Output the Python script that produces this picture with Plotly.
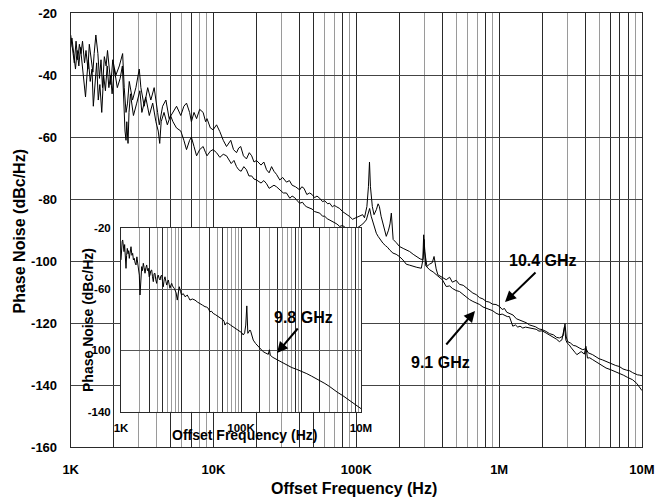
import plotly.graph_objects as go

W, H = 662, 499

# ---------------- data (frequency in kHz, phase noise in dBc/Hz) ----------------
f_104_khz = [1.00,1.03,1.06,1.09,1.12,1.15,1.18,1.21,1.25,1.28,1.32,1.35,1.39,1.43,1.46,1.50,1.55,1.59,1.63,1.67,
             1.72,1.77,1.81,1.86,1.91,1.97,2.07,2.19,2.31,2.37,2.44,2.50,2.57,2.71,2.86,3.02,3.10,3.27,3.46,3.64,
             3.84,4.06,4.17,4.40,4.64,4.89,5.17,5.51,5.9,6.2,6.47,6.8,7.0,7.3,7.61,8.0,8.46,8.8,9.0,9.5,9.93,10.5,
             11.07,11.7,12.33,13.2,13.8,14.49,15.0,15.5,16.2,17.0,17.8,18.5,19.2,20.0,21.5,22.5,23.5,24.5,25.5,26.5,
             27.6,29.1,30.5,32.4,34,35.5,37.5,40.1,41.5,43,45,47.1,49,51,53,55.4,58,60,63,65,68,70,73,76.4,80,83,86,
             89.8,94,100,105,110.7,114,118.5,121.5,123.6,125.5,129.4,133,138,142,145,149,153.5,158,162,168,172,175.8,
             178,181,190,200.8,215,236,250,263,280,292,296,301,312,325,340,350,357,362,372,395,426,450,470,500,527,
             560,590,620,654,690,730,770,811,850,900,950,1005,1050,1090,1130,1180,1250,1320,1386,1460,1550,1630,
             1718,1800,1900,2000,2130,2250,2400,2520,2640,2800,2890,2950,3020,3150,3300,3450,3630,3850,4050,4200,
             4510,4750,5000,5300,5600,5900,6200,6550,6930,7350,7800,8200,8600,9000,9300,9650,10000]
pn_104 = [-27,-31,-36,-29,-35,-30,-33,-29,-36,-32,-38,-30,-34,-39,-33,-27,-33,-41,-35,-44,
          -34,-37,-32,-38,-43,-35,-40,-37,-33,-44,-52,-49,-42,-48,-44,-38,-44,-50,-44,-48,
          -44,-52,-56,-50,-48,-54,-52,-50,-53,-50,-49,-52,-55,-52,-54,-51,-52,-55,-54,-57,-57.6,-56,
          -58.2,-61,-63,-61,-64,-65,-63.5,-63,-66,-67,-65,-66,-68,-67.5,-69,-68,-70.5,-71.5,-69.5,-71,
          -72,-73.8,-73,-74.5,-74,-75.5,-76,-77,-76,-76.5,-78.5,-78,-78.5,-79.5,-79,-79.7,-80.8,-80.5,-81.5,-81.3,-82.5,-82,-82.5,-83,-84,-84.5,-84.8,
          -85.6,-86.5,-86,-85.5,-85,-86,-82.4,-76,-68,-76,-82.4,-85,-83.4,-81.5,-82.4,-85.5,-87.7,-90,-92,-90,-88,-84.5,
          -89,-93,-94,-95.3,-96,-96.9,-97.8,-98.5,-99.3,-99.5,-91.5,-97,-101.7,-101,-100.5,-98.5,-101,-102.5,-104.4,-105,-106,-105.2,-106.8,-106.2,-107.5,
          -107.8,-108.6,-109.6,-110.3,-110.8,-111.8,-112.2,-113,-113.2,-113.9,-114,-114.6,-115.6,-115.3,-116.5,-116.8,-117.4,-118.6,-119,-119.2,-119.9,-120.6,
          -121,-121.2,-121.9,-122.1,-122.7,-123.4,-123.8,-124.6,-124.8,-124.2,-120.2,-124.5,-126,-126.4,-127.2,-127.4,-128,-128.6,-128.2,-129.6,
          -130.2,-131,-131.5,-131.9,-132.4,-133,-133.3,-133.7,-134,-134.8,-135.2,-135.4,-136,-136.5,-136.7,-136.8,-137]

f_91_khz = [1.00,1.02,1.05,1.08,1.11,1.14,1.17,1.20,1.24,1.27,1.30,1.33,1.37,1.41,1.44,1.48,1.52,1.56,1.60,1.65,
            1.70,1.75,1.80,1.85,1.90,1.95,2.02,2.12,2.22,2.30,2.35,2.40,2.44,2.47,2.52,2.56,2.62,2.75,2.90,3.05,
            3.15,3.35,3.55,3.75,3.95,4.10,4.20,4.30,4.50,4.75,5.00,5.20,5.5,5.9,6.2,6.47,6.8,7.0,7.3,7.61,8.0,8.46,
            8.8,9.0,9.5,9.93,10.5,11.07,11.7,12.33,13.3,13.9,14.49,15.0,15.6,16.3,17.0,17.7,18.5,19.2,20.0,21.5,22.5,
            23.5,24.5,25.5,26.5,27.6,29.1,30.8,32.4,34.2,35.5,37,38.5,40.1,42,43.5,45,47.1,49,51,53,55.4,58,60,62.5,
            65,67.5,70,73,76.4,80,83,86,89.8,95,100,105.5,111,117.4,121,123.9,127,130.8,134,138,142,147,153.5,160,
            165,172,180.4,190,200,211.8,223.7,236,249,265,285,294,298,302,306,326,345,372,400,426,450,470,500,527,
            560,590,620,654,690,730,770,811,850,900,950,1005,1050,1090,1140,1180,1220,1245,1300,1350,1400,1463,1530,
            1600,1700,1815,1900,2000,2130,2250,2400,2520,2640,2750,2870,2930,3000,3090,3200,3300,3400,3500,3650,3750,
            3950,4050,4150,4300,4510,4800,5100,5600,6000,6500,6930,7400,7900,8600,9200,9600,10000]
pn_91 = [-31,-28,-33,-38,-32,-37,-31,-36,-42,-47,-40,-35,-42,-38,-50,-41,-36,-48,-43,-52,
         -40,-45,-37,-44,-40,-46,-38,-44,-41,-37,-50,-58,-61,-55,-62,-52,-46,-53,-49,-45,
         -52,-47,-53,-49,-55,-58,-62,-55,-52,-56,-53,-55,-57,-58,-61,-64,-61,-60,-63,-66,-64,-63,
         -65,-66,-64.5,-64,-65,-66.5,-65.5,-66,-68.5,-67.5,-69.5,-70.5,-71,-69.5,-70.5,-72.5,-72.5,-73.5,-73.8,-74.8,-74,
         -75,-76.5,-76,-75.5,-76,-77,-78,-78,-79.7,-79,-79.5,-80.5,-81.3,-81,-82,-82.5,-83,-83.2,-84,-84.2,-84.5,-85.5,-85.5,-86.3,
         -86.7,-87,-87.5,-88,-88.8,-88.5,-89,-89.6,-89.4,-89.8,-89.5,-88.8,-88,-86.7,-84.5,-83,-85.5,-87.7,-89.5,-91,-92,-93,-94.2,-95,
         -95.5,-96.5,-97.4,-97.8,-98.5,-99.6,-101,-101.3,-101.7,-102,-102.3,-99,-93,-98,-101.5,-102.8,-103.5,-104.8,-106,-108.2,-108,-108.8,-109.5,-109.8,
         -110.8,-111.5,-112.4,-113,-113.4,-114,-114.8,-115.2,-115.6,-116,-116.8,-117.3,-117.1,-117.5,-117.9,-117.9,-120,-121,-120.6,-121.3,-121,-121.6,-121.3,
         -121.5,-121.8,-122,-122.6,-122.5,-123.2,-123.8,-124.5,-125.2,-126,-125.4,-121,-125.5,-126.5,-127,-128,-128.6,-129.5,-130.2,-129.7,-129.2,
         -130,-127.5,-131.3,-131.2,-131.8,-132.6,-133.4,-134.5,-135,-135.6,-136.1,-136.8,-137.5,-138.3,-139.5,-140.6,-141.8]

f_98_khz = [1.0,1.02,1.045,1.067,1.09,1.122,1.15,1.18,1.212,1.24,1.274,1.31,1.34,1.375,1.42,1.468,1.52,1.565,1.61,1.665,
            1.72,1.778,1.84,1.897,1.95,2.018,2.073,2.13,2.214,2.28,2.353,2.43,2.512,2.6,2.681,2.76,2.851,2.95,3.04,3.14,
            3.25,3.35,3.456,3.56,3.68,3.8,3.93,4.05,4.175,4.32,4.467,4.62,4.77,4.92,5.07,5.24,5.41,5.6,5.78,5.96,
            6.15,6.35,6.55,6.78,7.0,7.22,7.44,7.7,7.94,8.3,8.67,9.0,9.35,9.8,10.2,10.9,11.66,12.2,12.7,13.4,
            14.1,15.5,17.1,18.8,20.7,22.8,25.1,26.8,28.5,30.3,32.3,34.4,37.8,41.7,45.5,48,50.6,52.3,54.1,57.5,
            61.3,67,74.4,82,89,96.2,103,109,115,120,125,130,135,141,145,150,160,175,194,215,
            235,260,285,298,308,340,380,430,500,600,700,850,1000,1250,1500,2000,2500,3000,3500,4000,
            5000,6000,7000,8500,10000]
pn_98 = [-41,-33,-29,-28,-33,-35.6,-31,-38,-46.5,-38,-33.5,-37,-35,-40,-36,-32.4,-38,-36.7,-41,-40,
         -43,-44.3,-39,-42.2,-46,-50.9,-63.9,-52,-45.4,-48,-43.2,-46,-49.7,-46,-44.3,-48,-46.5,-52,-50.9,-48,
         -47.6,-52,-55.2,-50,-49.7,-54,-56.3,-52,-50.9,-53,-54.1,-51.5,-50.9,-55,-58.5,-54,-52,-55,-57.4,-55.5,
         -54.1,-57,-59.5,-57.5,-56.3,-58,-58.5,-59.5,-60.6,-62.5,-67.2,-62,-58.5,-61.5,-63.9,-63,-65,-64.5,-63.9,-65.5,
         -67.2,-66.5,-67.2,-68.5,-69.3,-70.5,-71.5,-71.8,-72.6,-74.8,-74.5,-75.9,-76.8,-78,-78.8,-79.5,-80.2,-81.2,-83.5,-82,
         -82.4,-83.5,-84.6,-85.8,-87,-87.8,-88.5,-90,-88.6,-83.5,-71,-88.9,-88,-86.7,-87.5,-90,-93.3,-95.5,-97.6,-99.3,
         -100.9,-101.8,-102.6,-99.6,-103.2,-104.6,-105.6,-107,-108.4,-110,-111.2,-112.4,-113.4,-115.2,-116.8,-119.3,-121.6,-123.6,-125.6,-127.2,
         -129.6,-131.7,-133.4,-135.8,-138]

# ---------------- axes ticks / grid ----------------
MAIN_X_TICKS = [1e3, 1e4, 1e5, 1e6, 1e7]
MAIN_X_LABELS = ["1K", "10K", "100K", "1M", "10M"]
MAIN_X_DARK = [2e3, 5e3, 7e3, 2e4, 4e4, 5e4, 8e4, 2e5, 4e5, 8e5, 2e6, 4e6, 6e6, 7e6, 8e6]
MAIN_X_GRAY = [3e3, 4e3, 6e3, 8e3, 9e3, 3e4, 6e4, 7e4, 9e4, 3e5, 5e5, 6e5, 7e5, 9e5, 3e6, 5e6, 9e6]
MAIN_Y_TICKS = [-160, -140, -120, -100, -80, -60, -40, -20]

INS_X_TICKS = [1e3, 1e5, 1e7]
INS_X_LABELS = ["1K", "100K", "10M"]
INS_X_DARK = [3e3, 5e3, 1e4, 3e4, 5e4, 2e5, 4e5, 8e5, 1e6, 2e6, 5e6, 8e6]
INS_X_GRAY = [2e3, 4e3, 6e3, 7e3, 8e3, 9e3, 2e4, 4e4, 6e4, 7e4, 8e4, 9e4, 3e5, 5e5, 6e5, 7e5, 9e5,
              3e6, 4e6, 6e6, 7e6, 9e6]
INS_Y_TICKS = [-140, -100, -60, -20]

FONT = "Liberation Sans"
DARK = "#2a2a2a"
GRAY = "#9a9a9a"


def khz(v):
    return [x * 1000 for x in v]


fig = go.Figure()
fig.add_trace(go.Scatter(x=khz(f_104_khz), y=pn_104, mode="lines", name="10.4 GHz",
                         line=dict(color="black", width=1), xaxis="x", yaxis="y"))
fig.add_trace(go.Scatter(x=khz(f_91_khz), y=pn_91, mode="lines", name="9.1 GHz",
                         line=dict(color="black", width=1), xaxis="x", yaxis="y"))
fig.add_trace(go.Scatter(x=khz(f_98_khz), y=pn_98, mode="lines", name="9.8 GHz",
                         line=dict(color="black", width=1), xaxis="x2", yaxis="y2"))


def px_x(p):
    return p / W


def px_y(p):
    return (H - p) / H


main_x_vals = MAIN_X_TICKS + MAIN_X_DARK
main_x_text = MAIN_X_LABELS + [""] * len(MAIN_X_DARK)
ins_x_vals = INS_X_TICKS + INS_X_DARK
ins_x_text = INS_X_LABELS + [""] * len(INS_X_DARK)

tick_font_main = dict(family=FONT, size=13, color="black", weight="bold")
tick_font_ins = dict(family=FONT, size=11.5, color="black", weight="bold")

fig.update_layout(
    width=W, height=H,
    margin=dict(l=0, r=0, t=0, b=0, autoexpand=False),
    paper_bgcolor="white", plot_bgcolor="white",
    showlegend=False,
    xaxis=dict(type="log", range=[3, 7], domain=[px_x(70.7), px_x(642)], anchor="y", automargin=False,
               tickmode="array", tickvals=main_x_vals, ticktext=main_x_text,
               showgrid=True, gridcolor=DARK, gridwidth=1,
               minor=dict(tickmode="array", tickvals=MAIN_X_GRAY, showgrid=True, gridcolor=GRAY, gridwidth=1, ticks=""),
               showline=True, mirror=True, linecolor=DARK, linewidth=1,
               ticks="", tickfont=tick_font_main, ticklabelstandoff=10, zeroline=False),
    yaxis=dict(range=[-160, -20], domain=[px_y(447), px_y(13.3)], anchor="x", automargin=False,
               tickmode="array", tickvals=MAIN_Y_TICKS, ticktext=[str(v) for v in MAIN_Y_TICKS],
               showgrid=True, gridcolor="#444444", gridwidth=1,
               showline=True, mirror=True, linecolor=DARK, linewidth=1,
               ticks="", tickfont=tick_font_main, ticklabelstandoff=10, zeroline=False),
    xaxis2=dict(type="log", range=[3, 7], domain=[px_x(121), px_x(361)], anchor="y2", automargin=False,
                tickmode="array", tickvals=ins_x_vals, ticktext=ins_x_text,
                showgrid=True, gridcolor=DARK, gridwidth=1,
                minor=dict(tickmode="array", tickvals=INS_X_GRAY, showgrid=True, gridcolor=GRAY, gridwidth=1, ticks=""),
                showline=True, mirror=True, linecolor=DARK, linewidth=1,
                ticks="", tickfont=tick_font_ins, ticklabelstandoff=5, zeroline=False),
    yaxis2=dict(range=[-140, -20], domain=[px_y(411.7), px_y(227.7)], anchor="x2", automargin=False,
                tickmode="array", tickvals=INS_Y_TICKS, ticktext=[str(v) for v in INS_Y_TICKS],
                showgrid=True, gridcolor="#555555", gridwidth=1,
                showline=True, mirror=True, linecolor=DARK, linewidth=1,
                ticks="", tickfont=tick_font_ins, ticklabelstandoff=7, zeroline=False),
    shapes=[dict(type="rect", xref="x2", yref="y2", x0=1e3, x1=1e7, y0=-140, y1=-20,
                 fillcolor="white", line=dict(width=0), layer="below")],
)

title_font = dict(family=FONT, size=16, color="black", weight="bold")
ins_title_font = dict(family=FONT, size=14, color="black", weight="bold")
ann_font = dict(family=FONT, size=16, color="black", weight="bold")

annotations = [
    dict(text="Offset Frequency (Hz)", x=px_x(354), y=px_y(488), xref="paper", yref="paper",
         showarrow=False, font=title_font, xanchor="center", yanchor="middle"),
    dict(text="Phase Noise (dBc/Hz)", x=px_x(18.5), y=px_y(232), xref="paper", yref="paper",
         showarrow=False, font=title_font, textangle=-90, xanchor="center", yanchor="middle"),
    dict(text="Offset Frequency (Hz)", x=px_x(244), y=px_y(435), xref="paper", yref="paper",
         showarrow=False, font=ins_title_font, xanchor="center", yanchor="middle"),
    dict(text="Phase Noise (dBc/Hz)", x=px_x(88), y=px_y(320), xref="paper", yref="paper",
         showarrow=False, font=ins_title_font, textangle=-90, xanchor="center", yanchor="middle"),
    dict(text="10.4 GHz", x=px_x(543), y=px_y(260), xref="paper", yref="paper",
         showarrow=False, font=ann_font, xanchor="center", yanchor="middle"),
    dict(text="9.1 GHz", x=px_x(440), y=px_y(362), xref="paper", yref="paper",
         showarrow=False, font=ann_font, xanchor="center", yanchor="middle"),
    dict(text="9.8 GHz", x=px_x(303), y=px_y(317), xref="paper", yref="paper",
         showarrow=False, font=ann_font, xanchor="center", yanchor="middle"),
    # arrows
    dict(text="", x=px_x(505), y=px_y(302), xref="paper", yref="paper", showarrow=True,
         ax=32, ay=-31, arrowhead=2, arrowsize=1.1, arrowwidth=2, arrowcolor="black"),
    dict(text="", x=px_x(475), y=px_y(311), xref="paper", yref="paper", showarrow=True,
         ax=-30, ay=35, arrowhead=2, arrowsize=1.1, arrowwidth=2, arrowcolor="black"),
    dict(text="", x=px_x(277), y=px_y(353), xref="paper", yref="paper", showarrow=True,
         ax=22, ay=-26, arrowhead=2, arrowsize=1.1, arrowwidth=2, arrowcolor="black"),
]
fig.update_layout(annotations=annotations)

fig.write_html("out.html")
